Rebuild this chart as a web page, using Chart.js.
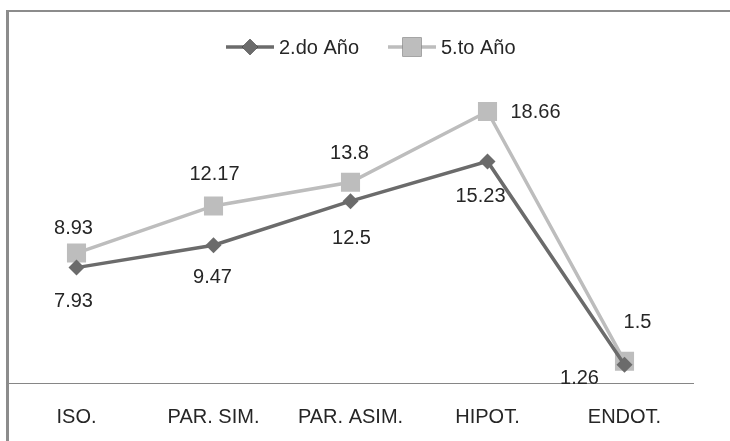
<!DOCTYPE html>
<html>
<head>
<meta charset="utf-8">
<script src="https://cdn.jsdelivr.net/npm/chart.js@4.4.1/dist/chart.umd.min.js"></script>
<style>
    html, body { margin: 0; padding: 0; background: #fff; }
    #wrap { position: relative; width: 730px; height: 441px; overflow: hidden; }
    #frame {
        position: absolute; left: 6px; top: 10px; right: -10px; bottom: -10px;
        border-top: 2px solid #8c8c8c; border-left: 3px solid #8c8c8c;
        pointer-events: none;
    }
</style>
</head>
<body>
<div id="wrap">
    <canvas id="myChart" width="730" height="441"></canvas>
    <div id="frame"></div>
</div>
<script>
// @ts-check

const categories = ['ISO.', 'PAR. SIM.', 'PAR. ASIM.', 'HIPOT.', 'ENDOT.'];
const seriesNames = ['2.do Año', '5.to Año'];
const segundoAnio = [7.93, 9.47, 12.5, 15.23, 1.26];
const quintoAnio = [8.93, 12.17, 13.8, 18.66, 1.5];

const FONT = 'Liberation Sans';
const TEXT_COLOR = '#262626';

/**
 * Data labels, each series with its own hand-placed offsets (px from the point)
 */
const dataLabels = {
    id: 'dataLabels',
    afterDatasetsDraw(chart) {
        const ctx = chart.ctx;
        ctx.save();
        ctx.font = `20px "${FONT}"`;
        ctx.fillStyle = TEXT_COLOR;
        ctx.textAlign = 'center';
        ctx.textBaseline = 'middle';
        chart.data.datasets.forEach((ds, i) => {
            const meta = chart.getDatasetMeta(i);
            meta.data.forEach((pt, j) => {
                const off = ds.labelOffsets[j];
                ctx.fillText(String(ds.data[j]), pt.x + off[0], pt.y + off[1]);
            });
        });
        ctx.restore();
    }
};

/**
 * Excel-like legend: line sample with marker, then the series name
 */
const lineLegend = {
    id: 'lineLegend',
    afterDraw(chart) {
        const ctx = chart.ctx;
        const y = 47;
        const starts = [226, 388];
        ctx.save();
        ctx.font = `20px "${FONT}"`;
        ctx.textBaseline = 'middle';
        ctx.textAlign = 'left';
        chart.data.datasets.forEach((ds, i) => {
            const x0 = starts[i];
            ctx.strokeStyle = ds.borderColor;
            ctx.lineWidth = 3.5;
            ctx.beginPath();
            ctx.moveTo(x0, y);
            ctx.lineTo(x0 + 48, y);
            ctx.stroke();
            Chart.helpers.drawPoint(ctx, {
                pointStyle: ds.pointStyle,
                radius: ds.pointRadius,
                borderWidth: 0,
            }, x0 + 24, y);
            ctx.fillStyle = ds.backgroundColor;
            ctx.fill();
            ctx.fillStyle = TEXT_COLOR;
            ctx.fillText(ds.label, x0 + 53, y + 1);
        });
        ctx.restore();
    }
};

function renderChart() {
    const ctx = /** @type {HTMLCanvasElement} */ (document.getElementById('myChart'));
    new Chart(ctx, {
        type: 'line',
        data: {
            labels: categories,
            datasets: [{
                label: seriesNames[0],
                data: segundoAnio,
                borderColor: '#6b6b6b',
                backgroundColor: '#6b6b6b',
                borderWidth: 3.5,
                pointStyle: 'rectRot',
                pointRadius: 8,
                pointBorderWidth: 0,
                labelOffsets: [[-3, 34], [-1, 32], [1, 37], [-7, 35], [-45, 14]],
            }, {
                label: seriesNames[1],
                data: quintoAnio,
                borderColor: '#bdbdbd',
                backgroundColor: '#bdbdbd',
                borderWidth: 3.5,
                pointStyle: 'rect',
                pointRadius: 13.5,
                pointBorderWidth: 0,
                labelOffsets: [[-3, -25], [1, -31], [-1, -29], [48, 1], [13, -39]],
            }]
        },
        options: {
            responsive: false,
            animation: false,
            layout: { autoPadding: false, padding: { left: 8, right: 37, top: 92, bottom: 0 } },
            plugins: {
                legend: { display: false },
                tooltip: { enabled: false },
            },
            scales: {
                x: {
                    offset: true,
                    grid: { display: false, drawTicks: false, offset: true },
                    border: { display: true, color: '#868686', width: 1 },
                    ticks: {
                        color: TEXT_COLOR,
                        font: { family: FONT, size: 20 },
                        padding: 22,
                        maxRotation: 0,
                        autoSkip: false,
                    },
                    afterFit: (scale) => { scale.height = 58; },
                },
                y: {
                    display: false,
                    min: 0,
                    max: 20,
                }
            }
        },
        plugins: [dataLabels, lineLegend]
    });
}

renderChart();
</script>
</body>
</html>
